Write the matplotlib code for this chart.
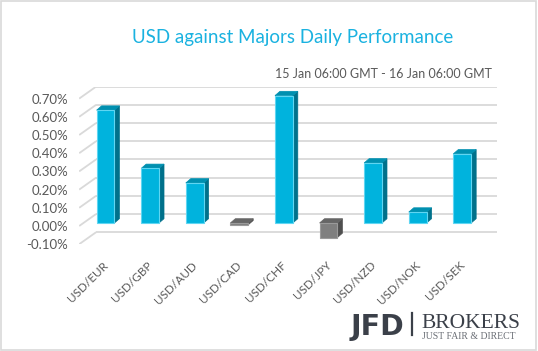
import matplotlib
matplotlib.use("Agg")
from matplotlib import pyplot as plt
from matplotlib.patches import Polygon, Rectangle
from matplotlib.transforms import ScaledTranslation

# data
pairs = ["USD/EUR", "USD/GBP", "USD/AUD", "USD/CAD", "USD/CHF",
         "USD/JPY", "USD/NZD", "USD/NOK", "USD/SEK"]
perf = [0.62, 0.30, 0.22, -0.01, 0.70, -0.08, 0.33, 0.06, 0.38]
yticks = [-0.10, 0.00, 0.10, 0.20, 0.30, 0.40, 0.50, 0.60, 0.70]

# fake 3d geometry, in data units
WALL_DX, WALL_DY = 0.38, 0.066
BAR_X0, BAR_Y0 = 0.09, 0.0165
BAR_DX, BAR_DY = 0.112, 0.0236
BAR_W = 0.40

POS = dict(front="#00b3dd", side="#00718b", top="#0090b0", edge="#5fd6f2")
NEG = dict(front="#7f7f7f", side="#4f4f4f", top="#666666", edge="#9a9a9a")

plt.rcParams["font.family"] = ["Lato", "DejaVu Sans"]

fig = plt.figure(figsize=(5.38, 3.51), dpi=100)
fig.patch.set_facecolor("white")
fig.patches.append(Rectangle((0.002, 0.003), 0.995, 0.993, transform=fig.transFigure,
                             fill=False, edgecolor="#d9d9d9", linewidth=1.2))

ax = fig.add_axes([0.1472, 0.3043, 0.7775, 0.449])
ax.set_xlim(-0.5, len(pairs) - 0.5 + WALL_DX)
ax.set_ylim(yticks[0], yticks[-1] + WALL_DY)
for s in ax.spines.values():
    s.set_visible(False)
ax.patch.set_alpha(0)

# side wall diagonals + back wall gridlines
x_left = -0.5
x_right = len(pairs) - 0.5
for v in yticks:
    ax.plot([x_left, x_left + WALL_DX], [v, v + WALL_DY], color="#d9d9d9", lw=1.3,
            zorder=1, solid_capstyle="butt")
    ax.plot([x_left + WALL_DX, x_right + WALL_DX], [v + WALL_DY, v + WALL_DY],
            color="#d9d9d9", lw=1.3, zorder=1, solid_capstyle="butt")

# bars
for i, val in enumerate(perf):
    c = POS if val >= 0 else NEG
    x0 = i - BAR_W / 2 + BAR_X0
    x1 = x0 + BAR_W
    b = BAR_Y0
    t = BAR_Y0 + val
    hi, lo = max(b, t), min(b, t)
    side = Polygon([(x1, lo), (x1 + BAR_DX, lo + BAR_DY), (x1 + BAR_DX, hi + BAR_DY), (x1, hi)],
                   closed=True, facecolor=c["side"], edgecolor=c["side"], lw=0.5, zorder=3)
    top = Polygon([(x0, hi), (x1, hi), (x1 + BAR_DX, hi + BAR_DY), (x0 + BAR_DX, hi + BAR_DY)],
                  closed=True, facecolor=c["top"], edgecolor=c["top"], lw=0.5, zorder=3)
    ax.add_patch(side)
    ax.add_patch(top)
    ax.bar(i + BAR_X0, hi - lo, bottom=lo, width=BAR_W, color=c["front"],
           edgecolor=c["edge"], linewidth=0.8, zorder=4)

ax.set_yticks(yticks)
ax.set_yticklabels([f"{v:.2f}%" for v in yticks])
ax.set_xticks(range(len(pairs)))
ax.set_xticklabels(pairs, rotation=45, ha="right", va="top", rotation_mode="anchor")
ax.tick_params(axis="y", length=0, pad=8, labelsize=9.5, labelcolor="#595959")
ax.tick_params(axis="x", length=0, pad=11, labelsize=8.5, labelcolor="#595959")
shift = ScaledTranslation(1 / 100, 0, fig.dpi_scale_trans)
for lab in ax.get_xticklabels():
    lab.set_transform(lab.get_transform() + shift)

fig.text(0.543, 0.892, "USD against Majors Daily Performance", ha="center", va="center",
         fontsize=13.5, color="#1ab2e0")
fig.text(0.915, 0.789, "15 Jan 06:00 GMT - 16 Jan 06:00 GMT", ha="right", va="center",
         fontsize=9, color="#595959")

# logo
fig.text(0.652, 0.0456, "JFD", ha="left", va="baseline", fontsize=20.5, weight="bold",
         color="#3b4049", family="DejaVu Sans")
fig.add_artist(plt.Line2D([0.7658, 0.7658], [0.046, 0.108], transform=fig.transFigure,
                          color="#3b4049", lw=1.6))
fig.text(0.7825, 0.0655, "BROKERS", ha="left", va="baseline", fontsize=15.5,
         color="#3b4049", family="Liberation Serif")
fig.text(0.7835, 0.034, "JUST FAIR & DIRECT", ha="left", va="baseline", fontsize=7,
         color="#6b6f76", family="Liberation Serif")

fig.savefig("out.png", dpi=100, facecolor="white")
